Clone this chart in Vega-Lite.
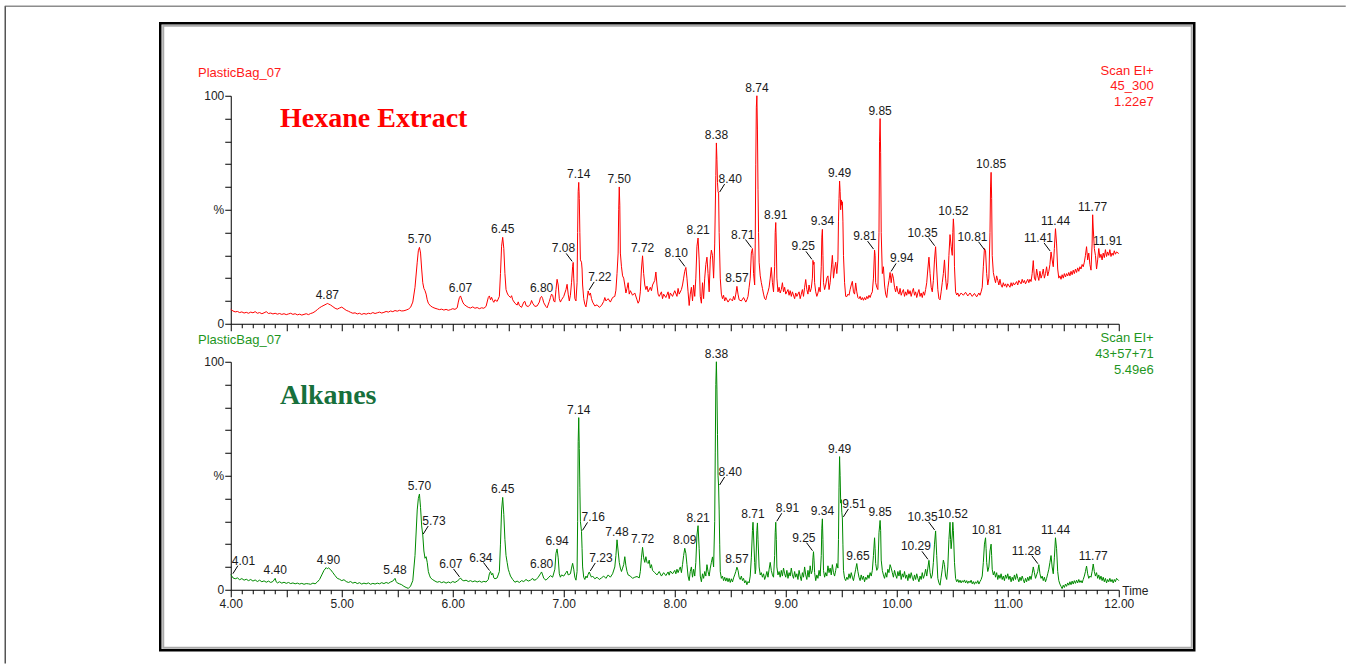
{
"$schema": "https://vega.github.io/schema/vega-lite/v6.json",
"padding": {"left": 3.75, "top": 4.75, "right": 0, "bottom": 0},
"background": "white",
"bounds": "flush",
"spacing": 38,
"config": {
  "view": {"stroke": null},
  "axis": {"domainColor": "#000", "tickColor": "#000", "labelColor": "#222", "labelFont": "Liberation Sans", "labelFontSize": 12, "grid": false, "domainWidth": 1, "tickWidth": 1, "labelOverlap": false, "labelFlush": false},
  "text": {"font": "Liberation Sans", "fontSize": 12}
},
"datasets": {
"hex": [
{"t":4.00,"v":6.3},{"t":4.02,"v":5.6},{"t":4.04,"v":5.2},{"t":4.06,"v":5.4},{"t":4.08,"v":4.9},{"t":4.10,"v":5.2},{"t":4.12,"v":4.7},{"t":4.14,"v":5.0},{"t":4.16,"v":4.6},{"t":4.18,"v":5.1},{"t":4.20,"v":4.8},{"t":4.22,"v":5.3},{"t":4.24,"v":4.6},{"t":4.26,"v":4.9},{"t":4.28,"v":4.4},{"t":4.30,"v":4.8},{"t":4.32,"v":5.3},{"t":4.34,"v":4.5},{"t":4.36,"v":4.7},{"t":4.38,"v":4.3},{"t":4.40,"v":4.6},{"t":4.42,"v":4.2},{"t":4.44,"v":4.5},{"t":4.46,"v":4.1},{"t":4.48,"v":4.4},{"t":4.50,"v":4.0},{"t":4.52,"v":4.3},{"t":4.54,"v":4.6},{"t":4.56,"v":4.1},{"t":4.58,"v":4.4},{"t":4.60,"v":3.9},{"t":4.62,"v":4.2},{"t":4.64,"v":3.8},{"t":4.66,"v":4.1},{"t":4.68,"v":4.4},{"t":4.70,"v":4.0},{"t":4.72,"v":4.5},{"t":4.74,"v":4.8},{"t":4.76,"v":5.4},{"t":4.78,"v":6.2},{"t":4.80,"v":7.0},{"t":4.82,"v":7.6},{"t":4.84,"v":8.1},{"t":4.86,"v":8.6},{"t":4.87,"v":8.9},{"t":4.88,"v":8.7},{"t":4.90,"v":8.2},{"t":4.92,"v":7.5},{"t":4.94,"v":6.8},{"t":4.96,"v":6.4},{"t":4.98,"v":6.9},{"t":5.00,"v":7.3},{"t":5.02,"v":6.6},{"t":5.04,"v":5.9},{"t":5.06,"v":5.5},{"t":5.08,"v":5.0},{"t":5.10,"v":4.6},{"t":5.12,"v":4.8},{"t":5.14,"v":4.3},{"t":5.16,"v":4.6},{"t":5.18,"v":4.1},{"t":5.20,"v":4.5},{"t":5.22,"v":4.2},{"t":5.24,"v":4.6},{"t":5.26,"v":4.4},{"t":5.28,"v":4.9},{"t":5.30,"v":4.5},{"t":5.32,"v":4.8},{"t":5.34,"v":5.1},{"t":5.36,"v":4.7},{"t":5.38,"v":5.0},{"t":5.40,"v":5.4},{"t":5.42,"v":5.1},{"t":5.44,"v":5.6},{"t":5.46,"v":5.3},{"t":5.48,"v":5.8},{"t":5.50,"v":5.5},{"t":5.52,"v":5.9},{"t":5.54,"v":5.6},{"t":5.56,"v":5.7},{"t":5.58,"v":6.0},{"t":5.60,"v":6.4},{"t":5.62,"v":7.2},{"t":5.64,"v":9.5},{"t":5.66,"v":16},{"t":5.68,"v":27},{"t":5.69,"v":32},{"t":5.70,"v":33.5},{"t":5.71,"v":31},{"t":5.72,"v":24},{"t":5.73,"v":18},{"t":5.74,"v":15.5},{"t":5.75,"v":14.5},{"t":5.76,"v":13},{"t":5.77,"v":10.5},{"t":5.78,"v":9},{"t":5.80,"v":7.8},{"t":5.82,"v":7.2},{"t":5.84,"v":6.8},{"t":5.86,"v":6.5},{"t":5.88,"v":6.2},{"t":5.90,"v":6.4},{"t":5.92,"v":6.0},{"t":5.94,"v":6.3},{"t":5.96,"v":5.9},{"t":5.98,"v":6.2},{"t":6.00,"v":6.6},{"t":6.02,"v":6.3},{"t":6.04,"v":7.0},{"t":6.05,"v":9.5},{"t":6.06,"v":11.5},{"t":6.07,"v":12.2},{"t":6.08,"v":10.8},{"t":6.09,"v":9.5},{"t":6.10,"v":8.6},{"t":6.12,"v":7.8},{"t":6.14,"v":7.2},{"t":6.16,"v":6.9},{"t":6.18,"v":7.4},{"t":6.20,"v":6.8},{"t":6.22,"v":7.1},{"t":6.24,"v":6.6},{"t":6.26,"v":7.0},{"t":6.28,"v":6.8},{"t":6.30,"v":7.6},{"t":6.32,"v":11.5},{"t":6.33,"v":12.2},{"t":6.34,"v":10.5},{"t":6.35,"v":11.6},{"t":6.36,"v":10.2},{"t":6.37,"v":9.4},{"t":6.38,"v":10.5},{"t":6.40,"v":9.8},{"t":6.42,"v":12},{"t":6.43,"v":22},{"t":6.44,"v":34},{"t":6.45,"v":37.9},{"t":6.46,"v":33},{"t":6.47,"v":22},{"t":6.48,"v":15},{"t":6.49,"v":13.5},{"t":6.50,"v":12.5},{"t":6.52,"v":11.5},{"t":6.53,"v":12.3},{"t":6.54,"v":10.5},{"t":6.56,"v":9.0},{"t":6.58,"v":8.2},{"t":6.59,"v":9.6},{"t":6.60,"v":8.0},{"t":6.62,"v":7.2},{"t":6.64,"v":9.5},{"t":6.65,"v":9.8},{"t":6.66,"v":8.0},{"t":6.68,"v":7.5},{"t":6.70,"v":8.6},{"t":6.71,"v":10.2},{"t":6.72,"v":9.0},{"t":6.74,"v":7.6},{"t":6.76,"v":7.8},{"t":6.78,"v":9.5},{"t":6.79,"v":11.5},{"t":6.80,"v":12.0},{"t":6.81,"v":11.0},{"t":6.82,"v":9.2},{"t":6.84,"v":7.5},{"t":6.85,"v":7.0},{"t":6.87,"v":9.8},{"t":6.88,"v":11.5},{"t":6.89,"v":13},{"t":6.90,"v":12.5},{"t":6.91,"v":10.0},{"t":6.92,"v":9.5},{"t":6.93,"v":15},{"t":6.94,"v":19.5},{"t":6.95,"v":17},{"t":6.96,"v":11},{"t":6.97,"v":9.5},{"t":6.98,"v":10.5},{"t":7.00,"v":12},{"t":7.01,"v":13.5},{"t":7.02,"v":15},{"t":7.03,"v":17.3},{"t":7.04,"v":13},{"t":7.05,"v":10.0},{"t":7.06,"v":12.5},{"t":7.07,"v":18},{"t":7.08,"v":25},{"t":7.085,"v":26.9},{"t":7.09,"v":20},{"t":7.10,"v":11},{"t":7.11,"v":10},{"t":7.12,"v":18},{"t":7.125,"v":40},{"t":7.13,"v":58},{"t":7.135,"v":62},{"t":7.14,"v":55},{"t":7.145,"v":40},{"t":7.15,"v":28},{"t":7.16,"v":27},{"t":7.165,"v":24},{"t":7.17,"v":17},{"t":7.18,"v":11},{"t":7.19,"v":8.5},{"t":7.20,"v":7.4},{"t":7.21,"v":10.5},{"t":7.22,"v":14.4},{"t":7.23,"v":12.5},{"t":7.24,"v":13.5},{"t":7.25,"v":11},{"t":7.26,"v":9.5},{"t":7.28,"v":7.8},{"t":7.30,"v":8.3},{"t":7.32,"v":7.2},{"t":7.34,"v":8.0},{"t":7.36,"v":9.8},{"t":7.37,"v":11.5},{"t":7.38,"v":10.0},{"t":7.40,"v":11.0},{"t":7.42,"v":9.5},{"t":7.44,"v":11.5},{"t":7.46,"v":12.0},{"t":7.47,"v":14.7},{"t":7.48,"v":22},{"t":7.49,"v":31},{"t":7.495,"v":50},{"t":7.50,"v":60},{"t":7.505,"v":52},{"t":7.51,"v":31},{"t":7.52,"v":25},{"t":7.53,"v":21},{"t":7.54,"v":20},{"t":7.55,"v":17},{"t":7.56,"v":13.5},{"t":7.57,"v":15.5},{"t":7.58,"v":18},{"t":7.59,"v":13},{"t":7.60,"v":14.5},{"t":7.62,"v":12.5},{"t":7.64,"v":13.5},{"t":7.66,"v":10.5},{"t":7.67,"v":9},{"t":7.68,"v":10},{"t":7.69,"v":14},{"t":7.70,"v":24},{"t":7.71,"v":29.8},{"t":7.72,"v":22},{"t":7.73,"v":17},{"t":7.74,"v":15},{"t":7.75,"v":16.5},{"t":7.76,"v":14},{"t":7.78,"v":16},{"t":7.79,"v":14.5},{"t":7.80,"v":17},{"t":7.82,"v":19},{"t":7.83,"v":22.7},{"t":7.84,"v":17},{"t":7.85,"v":13},{"t":7.86,"v":12},{"t":7.88,"v":14},{"t":7.89,"v":11},{"t":7.90,"v":13},{"t":7.92,"v":11.5},{"t":7.94,"v":14},{"t":7.95,"v":11},{"t":7.96,"v":13.5},{"t":7.98,"v":12},{"t":8.00,"v":14.5},{"t":8.02,"v":12},{"t":8.03,"v":15.5},{"t":8.04,"v":13},{"t":8.06,"v":15},{"t":8.07,"v":17},{"t":8.08,"v":20},{"t":8.09,"v":23},{"t":8.10,"v":24.7},{"t":8.11,"v":20},{"t":8.12,"v":14},{"t":8.13,"v":8},{"t":8.14,"v":13},{"t":8.15,"v":16},{"t":8.16,"v":10},{"t":8.17,"v":17},{"t":8.18,"v":12},{"t":8.19,"v":20},{"t":8.20,"v":34},{"t":8.21,"v":37.6},{"t":8.22,"v":28},{"t":8.23,"v":12},{"t":8.24,"v":9},{"t":8.25,"v":18},{"t":8.26,"v":11},{"t":8.27,"v":20},{"t":8.28,"v":26},{"t":8.29,"v":29.2},{"t":8.30,"v":22},{"t":8.31,"v":14},{"t":8.32,"v":28},{"t":8.33,"v":32.3},{"t":8.34,"v":30},{"t":8.35,"v":20},{"t":8.36,"v":35},{"t":8.37,"v":65},{"t":8.375,"v":79.3},{"t":8.38,"v":72},{"t":8.385,"v":62},{"t":8.39,"v":58},{"t":8.395,"v":57.3},{"t":8.40,"v":40},{"t":8.41,"v":20},{"t":8.42,"v":13},{"t":8.43,"v":11},{"t":8.44,"v":12.5},{"t":8.45,"v":10},{"t":8.46,"v":11.5},{"t":8.48,"v":9.5},{"t":8.50,"v":11},{"t":8.52,"v":10},{"t":8.53,"v":12},{"t":8.54,"v":10.5},{"t":8.55,"v":13},{"t":8.56,"v":16.4},{"t":8.57,"v":13},{"t":8.58,"v":10.5},{"t":8.60,"v":10},{"t":8.62,"v":11.5},{"t":8.64,"v":9.5},{"t":8.65,"v":10.5},{"t":8.66,"v":12},{"t":8.67,"v":16},{"t":8.68,"v":20},{"t":8.69,"v":31},{"t":8.70,"v":33},{"t":8.705,"v":30},{"t":8.71,"v":22},{"t":8.72,"v":17},{"t":8.725,"v":35},{"t":8.73,"v":70},{"t":8.735,"v":95},{"t":8.74,"v":100},{"t":8.745,"v":85},{"t":8.75,"v":59},{"t":8.755,"v":40},{"t":8.76,"v":27},{"t":8.77,"v":21},{"t":8.78,"v":18},{"t":8.79,"v":15.5},{"t":8.80,"v":13},{"t":8.81,"v":11},{"t":8.82,"v":10.5},{"t":8.83,"v":12.5},{"t":8.84,"v":14},{"t":8.85,"v":16},{"t":8.86,"v":20},{"t":8.87,"v":24.7},{"t":8.88,"v":18},{"t":8.89,"v":14},{"t":8.90,"v":25},{"t":8.905,"v":40},{"t":8.91,"v":44.4},{"t":8.915,"v":35},{"t":8.92,"v":20},{"t":8.93,"v":14},{"t":8.94,"v":16},{"t":8.95,"v":13.5},{"t":8.96,"v":15},{"t":8.97,"v":18},{"t":8.98,"v":14},{"t":8.99,"v":16},{"t":9.00,"v":13},{"t":9.02,"v":15},{"t":9.03,"v":12.5},{"t":9.04,"v":14.5},{"t":9.05,"v":12},{"t":9.06,"v":14},{"t":9.08,"v":11},{"t":9.09,"v":13.5},{"t":9.10,"v":12},{"t":9.12,"v":14},{"t":9.13,"v":11},{"t":9.14,"v":13},{"t":9.15,"v":15},{"t":9.16,"v":12},{"t":9.17,"v":16},{"t":9.18,"v":19.4},{"t":9.19,"v":15},{"t":9.20,"v":13},{"t":9.21,"v":17},{"t":9.22,"v":14},{"t":9.23,"v":15.5},{"t":9.24,"v":20},{"t":9.245,"v":27.8},{"t":9.25,"v":26},{"t":9.255,"v":27},{"t":9.26,"v":18},{"t":9.27,"v":14},{"t":9.28,"v":12},{"t":9.29,"v":13.5},{"t":9.30,"v":16},{"t":9.31,"v":14},{"t":9.32,"v":25},{"t":9.325,"v":38},{"t":9.33,"v":41.4},{"t":9.335,"v":30},{"t":9.34,"v":18},{"t":9.35,"v":15},{"t":9.36,"v":17},{"t":9.37,"v":20},{"t":9.38,"v":21},{"t":9.39,"v":15},{"t":9.40,"v":18},{"t":9.41,"v":24},{"t":9.42,"v":30},{"t":9.425,"v":26},{"t":9.43,"v":20},{"t":9.44,"v":24},{"t":9.45,"v":27},{"t":9.46,"v":22},{"t":9.47,"v":28},{"t":9.475,"v":45},{"t":9.48,"v":55},{"t":9.485,"v":62.6},{"t":9.49,"v":58},{"t":9.495,"v":50},{"t":9.50,"v":54.3},{"t":9.505,"v":52},{"t":9.51,"v":53.5},{"t":9.515,"v":45},{"t":9.52,"v":30},{"t":9.53,"v":18},{"t":9.54,"v":12},{"t":9.55,"v":11.9},{"t":9.56,"v":13},{"t":9.57,"v":12.5},{"t":9.58,"v":15},{"t":9.59,"v":17},{"t":9.60,"v":18.6},{"t":9.61,"v":14},{"t":9.62,"v":13},{"t":9.63,"v":17.9},{"t":9.64,"v":14},{"t":9.65,"v":11.5},{"t":9.66,"v":11},{"t":9.67,"v":12},{"t":9.68,"v":10.5},{"t":9.69,"v":11.5},{"t":9.70,"v":10.3},{"t":9.71,"v":11.5},{"t":9.72,"v":10.5},{"t":9.73,"v":12},{"t":9.74,"v":11},{"t":9.75,"v":12.5},{"t":9.76,"v":11.5},{"t":9.77,"v":13},{"t":9.78,"v":14},{"t":9.79,"v":20},{"t":9.80,"v":32.3},{"t":9.805,"v":30},{"t":9.81,"v":18},{"t":9.82,"v":16},{"t":9.83,"v":15},{"t":9.84,"v":40},{"t":9.845,"v":80},{"t":9.85,"v":90},{"t":9.855,"v":75},{"t":9.86,"v":40},{"t":9.87,"v":22},{"t":9.88,"v":25},{"t":9.89,"v":17},{"t":9.90,"v":13},{"t":9.91,"v":11.5},{"t":9.92,"v":16},{"t":9.93,"v":19},{"t":9.94,"v":22.5},{"t":9.95,"v":18},{"t":9.96,"v":22},{"t":9.97,"v":20},{"t":9.98,"v":16},{"t":9.99,"v":14},{"t":10.00,"v":16.5},{"t":10.01,"v":14},{"t":10.02,"v":13},{"t":10.03,"v":15.5},{"t":10.04,"v":12.5},{"t":10.05,"v":14},{"t":10.06,"v":15},{"t":10.07,"v":12},{"t":10.08,"v":14},{"t":10.09,"v":12.5},{"t":10.10,"v":15},{"t":10.11,"v":13},{"t":10.12,"v":14.5},{"t":10.13,"v":12},{"t":10.14,"v":14},{"t":10.15,"v":15.5},{"t":10.16,"v":12.5},{"t":10.17,"v":14},{"t":10.18,"v":11.5},{"t":10.19,"v":13.5},{"t":10.20,"v":15},{"t":10.21,"v":12},{"t":10.22,"v":13.5},{"t":10.23,"v":11.5},{"t":10.24,"v":14},{"t":10.25,"v":12.5},{"t":10.26,"v":15},{"t":10.27,"v":18},{"t":10.28,"v":24},{"t":10.29,"v":29.2},{"t":10.30,"v":22},{"t":10.31,"v":16},{"t":10.32,"v":14},{"t":10.33,"v":19},{"t":10.34,"v":28},{"t":10.35,"v":33.8},{"t":10.36,"v":24},{"t":10.37,"v":15},{"t":10.38,"v":11},{"t":10.39,"v":10.5},{"t":10.40,"v":14},{"t":10.41,"v":18},{"t":10.42,"v":22},{"t":10.43,"v":28},{"t":10.44,"v":20},{"t":10.45,"v":15},{"t":10.46,"v":18},{"t":10.47,"v":30},{"t":10.48,"v":39.1},{"t":10.49,"v":34},{"t":10.50,"v":30},{"t":10.505,"v":40},{"t":10.51,"v":46},{"t":10.515,"v":42},{"t":10.52,"v":25},{"t":10.53,"v":14},{"t":10.54,"v":12.6},{"t":10.55,"v":13.5},{"t":10.56,"v":12},{"t":10.58,"v":13.5},{"t":10.60,"v":12.5},{"t":10.62,"v":13.8},{"t":10.64,"v":12.2},{"t":10.66,"v":13.5},{"t":10.68,"v":12},{"t":10.70,"v":13.3},{"t":10.72,"v":11.8},{"t":10.74,"v":13.5},{"t":10.75,"v":12.5},{"t":10.76,"v":14},{"t":10.77,"v":16},{"t":10.78,"v":25},{"t":10.79,"v":33},{"t":10.80,"v":32},{"t":10.81,"v":22},{"t":10.82,"v":17},{"t":10.83,"v":20},{"t":10.84,"v":40},{"t":10.845,"v":60},{"t":10.85,"v":66.4},{"t":10.855,"v":55},{"t":10.86,"v":30},{"t":10.87,"v":22.5},{"t":10.88,"v":20},{"t":10.89,"v":18},{"t":10.90,"v":21},{"t":10.91,"v":19},{"t":10.92,"v":17},{"t":10.93,"v":19.5},{"t":10.94,"v":17},{"t":10.95,"v":16},{"t":10.96,"v":18},{"t":10.97,"v":16.5},{"t":10.98,"v":17.5},{"t":10.99,"v":16},{"t":11.00,"v":17.5},{"t":11.02,"v":16},{"t":11.03,"v":18},{"t":11.04,"v":16.5},{"t":11.05,"v":18},{"t":11.06,"v":17},{"t":11.08,"v":18.5},{"t":11.09,"v":17},{"t":11.10,"v":19},{"t":11.12,"v":17.5},{"t":11.13,"v":19.5},{"t":11.14,"v":18},{"t":11.15,"v":19},{"t":11.16,"v":17.5},{"t":11.18,"v":19.5},{"t":11.19,"v":18},{"t":11.20,"v":19.5},{"t":11.21,"v":18.5},{"t":11.22,"v":22},{"t":11.23,"v":27.7},{"t":11.24,"v":20},{"t":11.25,"v":19},{"t":11.26,"v":24},{"t":11.27,"v":21},{"t":11.28,"v":19},{"t":11.29,"v":23},{"t":11.30,"v":20},{"t":11.31,"v":21.5},{"t":11.32,"v":24},{"t":11.33,"v":20},{"t":11.34,"v":22},{"t":11.35,"v":25},{"t":11.36,"v":21},{"t":11.37,"v":23},{"t":11.38,"v":26},{"t":11.39,"v":31.5},{"t":11.40,"v":28},{"t":11.41,"v":25},{"t":11.42,"v":33},{"t":11.43,"v":41.7},{"t":11.44,"v":35},{"t":11.45,"v":24},{"t":11.46,"v":20},{"t":11.47,"v":21},{"t":11.48,"v":19.5},{"t":11.49,"v":21.5},{"t":11.50,"v":20},{"t":11.51,"v":22},{"t":11.52,"v":20.5},{"t":11.53,"v":22},{"t":11.54,"v":21},{"t":11.55,"v":22.5},{"t":11.56,"v":21},{"t":11.57,"v":23},{"t":11.58,"v":21.5},{"t":11.59,"v":23.5},{"t":11.60,"v":22},{"t":11.61,"v":24},{"t":11.62,"v":22.5},{"t":11.63,"v":24.5},{"t":11.64,"v":23},{"t":11.65,"v":25},{"t":11.66,"v":24},{"t":11.67,"v":26},{"t":11.68,"v":25},{"t":11.69,"v":27},{"t":11.70,"v":30},{"t":11.71,"v":33.8},{"t":11.72,"v":28},{"t":11.73,"v":31},{"t":11.74,"v":26},{"t":11.75,"v":23.5},{"t":11.76,"v":35},{"t":11.765,"v":47.8},{"t":11.77,"v":42},{"t":11.78,"v":33},{"t":11.79,"v":30},{"t":11.80,"v":24},{"t":11.81,"v":28},{"t":11.82,"v":33},{"t":11.83,"v":29},{"t":11.84,"v":30.5},{"t":11.85,"v":28},{"t":11.86,"v":31},{"t":11.87,"v":29},{"t":11.88,"v":32.5},{"t":11.89,"v":29.5},{"t":11.90,"v":31.5},{"t":11.91,"v":30},{"t":11.92,"v":32.5},{"t":11.93,"v":29.5},{"t":11.94,"v":31},{"t":11.95,"v":30},{"t":11.96,"v":32},{"t":11.97,"v":30.5},{"t":11.98,"v":31.5},{"t":12.00,"v":30.8}
],
"alk": [
{"t":4.00,"v":6.6},{"t":4.01,"v":6.0},{"t":4.02,"v":5.2},{"t":4.04,"v":4.8},{"t":4.06,"v":5.2},{"t":4.08,"v":4.4},{"t":4.10,"v":4.9},{"t":4.12,"v":4.2},{"t":4.14,"v":4.6},{"t":4.16,"v":4.0},{"t":4.18,"v":4.5},{"t":4.20,"v":3.8},{"t":4.22,"v":4.3},{"t":4.24,"v":3.6},{"t":4.26,"v":4.2},{"t":4.28,"v":3.5},{"t":4.30,"v":3.9},{"t":4.32,"v":3.3},{"t":4.34,"v":3.8},{"t":4.36,"v":3.2},{"t":4.38,"v":3.6},{"t":4.40,"v":5.0},{"t":4.41,"v":3.4},{"t":4.42,"v":3.0},{"t":4.44,"v":3.5},{"t":4.46,"v":2.9},{"t":4.48,"v":3.3},{"t":4.50,"v":2.8},{"t":4.52,"v":3.2},{"t":4.54,"v":2.7},{"t":4.56,"v":3.0},{"t":4.58,"v":2.6},{"t":4.60,"v":2.9},{"t":4.62,"v":2.5},{"t":4.64,"v":2.8},{"t":4.66,"v":2.4},{"t":4.68,"v":2.7},{"t":4.70,"v":2.6},{"t":4.72,"v":2.4},{"t":4.74,"v":2.9},{"t":4.76,"v":2.6},{"t":4.78,"v":3.4},{"t":4.80,"v":4.5},{"t":4.82,"v":6.5},{"t":4.84,"v":8.5},{"t":4.86,"v":9.7},{"t":4.87,"v":9.2},{"t":4.88,"v":9.6},{"t":4.90,"v":8.8},{"t":4.92,"v":7.5},{"t":4.94,"v":6.2},{"t":4.96,"v":5.0},{"t":4.98,"v":4.6},{"t":5.00,"v":4.0},{"t":5.02,"v":4.4},{"t":5.04,"v":3.6},{"t":5.06,"v":3.2},{"t":5.08,"v":3.6},{"t":5.10,"v":2.9},{"t":5.12,"v":3.3},{"t":5.14,"v":2.7},{"t":5.16,"v":3.1},{"t":5.18,"v":2.5},{"t":5.20,"v":2.9},{"t":5.22,"v":2.6},{"t":5.24,"v":3.0},{"t":5.26,"v":2.4},{"t":5.28,"v":2.8},{"t":5.30,"v":2.5},{"t":5.32,"v":2.9},{"t":5.34,"v":2.6},{"t":5.36,"v":3.1},{"t":5.38,"v":2.7},{"t":5.40,"v":3.2},{"t":5.42,"v":2.8},{"t":5.44,"v":3.4},{"t":5.46,"v":3.8},{"t":5.48,"v":5.0},{"t":5.49,"v":3.6},{"t":5.50,"v":3.0},{"t":5.52,"v":2.6},{"t":5.54,"v":2.2},{"t":5.56,"v":1.5},{"t":5.58,"v":1.0},{"t":5.60,"v":0.6},{"t":5.62,"v":1.6},{"t":5.64,"v":4},{"t":5.66,"v":15},{"t":5.68,"v":35},{"t":5.69,"v":40},{"t":5.70,"v":42},{"t":5.71,"v":36},{"t":5.72,"v":28},{"t":5.73,"v":24},{"t":5.74,"v":17},{"t":5.75,"v":13.8},{"t":5.76,"v":14.5},{"t":5.77,"v":12},{"t":5.78,"v":8},{"t":5.79,"v":6.4},{"t":5.80,"v":5.2},{"t":5.82,"v":4.4},{"t":5.84,"v":3.8},{"t":5.86,"v":3.3},{"t":5.88,"v":3.6},{"t":5.90,"v":3.1},{"t":5.92,"v":3.5},{"t":5.94,"v":2.9},{"t":5.96,"v":3.4},{"t":5.98,"v":3.0},{"t":6.00,"v":3.6},{"t":6.02,"v":3.2},{"t":6.04,"v":3.8},{"t":6.06,"v":4.6},{"t":6.07,"v":5.2},{"t":6.08,"v":4.4},{"t":6.10,"v":3.9},{"t":6.12,"v":4.2},{"t":6.14,"v":3.6},{"t":6.16,"v":4.0},{"t":6.18,"v":3.5},{"t":6.20,"v":3.9},{"t":6.22,"v":3.4},{"t":6.24,"v":3.8},{"t":6.26,"v":3.3},{"t":6.28,"v":3.7},{"t":6.30,"v":3.4},{"t":6.32,"v":4.5},{"t":6.33,"v":7.0},{"t":6.34,"v":8.0},{"t":6.35,"v":6.5},{"t":6.36,"v":7.2},{"t":6.37,"v":5.2},{"t":6.38,"v":4.8},{"t":6.40,"v":5.2},{"t":6.42,"v":8},{"t":6.43,"v":20},{"t":6.44,"v":35},{"t":6.45,"v":40.5},{"t":6.46,"v":33},{"t":6.47,"v":22},{"t":6.48,"v":15},{"t":6.49,"v":12},{"t":6.50,"v":9},{"t":6.51,"v":7.5},{"t":6.52,"v":6},{"t":6.54,"v":4.5},{"t":6.56,"v":3.3},{"t":6.58,"v":3.8},{"t":6.60,"v":3.2},{"t":6.62,"v":4.0},{"t":6.64,"v":3.6},{"t":6.66,"v":4.5},{"t":6.68,"v":3.8},{"t":6.70,"v":4.2},{"t":6.72,"v":5.0},{"t":6.73,"v":4.2},{"t":6.75,"v":4.4},{"t":6.77,"v":5.5},{"t":6.79,"v":7.0},{"t":6.80,"v":7.8},{"t":6.81,"v":6.5},{"t":6.82,"v":5.0},{"t":6.84,"v":4.2},{"t":6.86,"v":5.2},{"t":6.88,"v":6.2},{"t":6.90,"v":5.5},{"t":6.92,"v":9},{"t":6.93,"v":16},{"t":6.94,"v":17.9},{"t":6.95,"v":14},{"t":6.96,"v":7},{"t":6.97,"v":5.5},{"t":6.98,"v":6.5},{"t":7.00,"v":6.0},{"t":7.02,"v":7.5},{"t":7.03,"v":8.2},{"t":7.04,"v":6.5},{"t":7.06,"v":7.0},{"t":7.07,"v":9.5},{"t":7.08,"v":11.6},{"t":7.09,"v":9},{"t":7.10,"v":5.5},{"t":7.11,"v":4.2},{"t":7.12,"v":8},{"t":7.125,"v":30},{"t":7.13,"v":65},{"t":7.135,"v":75.5},{"t":7.14,"v":62},{"t":7.145,"v":45},{"t":7.15,"v":30},{"t":7.16,"v":25.6},{"t":7.165,"v":18},{"t":7.17,"v":10},{"t":7.18,"v":5.5},{"t":7.19,"v":4.5},{"t":7.20,"v":6.0},{"t":7.21,"v":5.2},{"t":7.22,"v":6.8},{"t":7.23,"v":7.8},{"t":7.24,"v":6.5},{"t":7.25,"v":5.5},{"t":7.26,"v":6.0},{"t":7.28,"v":4.8},{"t":7.30,"v":5.5},{"t":7.32,"v":4.5},{"t":7.34,"v":5.2},{"t":7.36,"v":6.0},{"t":7.38,"v":5.0},{"t":7.40,"v":6.5},{"t":7.42,"v":5.5},{"t":7.44,"v":7.0},{"t":7.46,"v":10},{"t":7.47,"v":15},{"t":7.48,"v":21.9},{"t":7.49,"v":17},{"t":7.50,"v":12},{"t":7.51,"v":9.5},{"t":7.52,"v":8},{"t":7.53,"v":9.5},{"t":7.54,"v":11},{"t":7.55,"v":14.5},{"t":7.56,"v":10.5},{"t":7.57,"v":8},{"t":7.58,"v":6.5},{"t":7.60,"v":6.0},{"t":7.62,"v":5.0},{"t":7.64,"v":5.5},{"t":7.66,"v":5.8},{"t":7.68,"v":5.2},{"t":7.69,"v":8},{"t":7.70,"v":14},{"t":7.71,"v":18.6},{"t":7.72,"v":14},{"t":7.73,"v":12},{"t":7.74,"v":14.5},{"t":7.75,"v":12},{"t":7.76,"v":11.5},{"t":7.77,"v":13},{"t":7.78,"v":9.5},{"t":7.79,"v":11},{"t":7.80,"v":8.5},{"t":7.82,"v":7.5},{"t":7.84,"v":6.5},{"t":7.86,"v":8},{"t":7.88,"v":6.0},{"t":7.90,"v":7.5},{"t":7.92,"v":6.2},{"t":7.94,"v":7.8},{"t":7.95,"v":6.4},{"t":7.96,"v":8.2},{"t":7.98,"v":7.0},{"t":8.00,"v":8.5},{"t":8.01,"v":7.0},{"t":8.02,"v":9.0},{"t":8.03,"v":7.5},{"t":8.04,"v":8.8},{"t":8.05,"v":10},{"t":8.06,"v":7.5},{"t":8.07,"v":11},{"t":8.08,"v":15},{"t":8.09,"v":18.2},{"t":8.10,"v":16},{"t":8.11,"v":11},{"t":8.12,"v":6},{"t":8.13,"v":4},{"t":8.14,"v":8},{"t":8.15,"v":10},{"t":8.16,"v":5.5},{"t":8.17,"v":9},{"t":8.18,"v":6},{"t":8.19,"v":12},{"t":8.20,"v":24},{"t":8.21,"v":28.1},{"t":8.22,"v":18},{"t":8.23,"v":6},{"t":8.24,"v":3.5},{"t":8.25,"v":7},{"t":8.26,"v":5},{"t":8.27,"v":8},{"t":8.28,"v":6},{"t":8.29,"v":11},{"t":8.30,"v":8},{"t":8.31,"v":6},{"t":8.32,"v":9.5},{"t":8.33,"v":12},{"t":8.34,"v":14.4},{"t":8.35,"v":10},{"t":8.36,"v":30},{"t":8.365,"v":60},{"t":8.37,"v":90},{"t":8.375,"v":100},{"t":8.38,"v":88},{"t":8.385,"v":68},{"t":8.39,"v":50},{"t":8.395,"v":45.5},{"t":8.40,"v":35},{"t":8.405,"v":20},{"t":8.41,"v":8},{"t":8.42,"v":5},{"t":8.43,"v":6},{"t":8.44,"v":4},{"t":8.45,"v":5.5},{"t":8.46,"v":3.8},{"t":8.47,"v":5.2},{"t":8.48,"v":3.5},{"t":8.49,"v":5.0},{"t":8.50,"v":3.2},{"t":8.51,"v":4.8},{"t":8.52,"v":3.4},{"t":8.53,"v":5.2},{"t":8.54,"v":6.5},{"t":8.55,"v":8},{"t":8.56,"v":9.9},{"t":8.57,"v":8.5},{"t":8.58,"v":5.5},{"t":8.59,"v":4.5},{"t":8.60,"v":6.0},{"t":8.61,"v":4.0},{"t":8.62,"v":5.0},{"t":8.63,"v":3.0},{"t":8.64,"v":4.0},{"t":8.65,"v":2.2},{"t":8.66,"v":3.6},{"t":8.67,"v":3.0},{"t":8.68,"v":6},{"t":8.69,"v":14},{"t":8.70,"v":26},{"t":8.705,"v":29.6},{"t":8.71,"v":24},{"t":8.72,"v":12},{"t":8.725,"v":7},{"t":8.73,"v":9},{"t":8.74,"v":26},{"t":8.745,"v":29.3},{"t":8.75,"v":22},{"t":8.76,"v":10},{"t":8.77,"v":6.5},{"t":8.78,"v":7.5},{"t":8.79,"v":5.5},{"t":8.80,"v":7.0},{"t":8.81,"v":4.5},{"t":8.82,"v":6.0},{"t":8.83,"v":8.0},{"t":8.84,"v":5.5},{"t":8.85,"v":9.0},{"t":8.86,"v":12},{"t":8.87,"v":8.5},{"t":8.88,"v":6.5},{"t":8.89,"v":5.5},{"t":8.90,"v":15},{"t":8.905,"v":25},{"t":8.91,"v":29.6},{"t":8.915,"v":22},{"t":8.92,"v":10},{"t":8.93,"v":6.5},{"t":8.94,"v":8.0},{"t":8.95,"v":5.5},{"t":8.96,"v":8.5},{"t":8.97,"v":6.0},{"t":8.98,"v":9.5},{"t":8.99,"v":7.0},{"t":9.00,"v":5.5},{"t":9.01,"v":8.5},{"t":9.02,"v":5.0},{"t":9.03,"v":7.5},{"t":9.04,"v":6.0},{"t":9.05,"v":9.5},{"t":9.06,"v":6.5},{"t":9.07,"v":5.0},{"t":9.08,"v":8.0},{"t":9.09,"v":5.5},{"t":9.10,"v":7.0},{"t":9.11,"v":4.5},{"t":9.12,"v":8.5},{"t":9.13,"v":6.0},{"t":9.14,"v":4.0},{"t":9.15,"v":7.5},{"t":9.16,"v":5.5},{"t":9.17,"v":10},{"t":9.18,"v":6.5},{"t":9.19,"v":4.5},{"t":9.20,"v":8.5},{"t":9.21,"v":5.5},{"t":9.22,"v":10.5},{"t":9.23,"v":7.0},{"t":9.24,"v":8.5},{"t":9.245,"v":14},{"t":9.25,"v":16.7},{"t":9.255,"v":13},{"t":9.26,"v":7.5},{"t":9.27,"v":4.0},{"t":9.28,"v":6.5},{"t":9.29,"v":5.0},{"t":9.30,"v":8.5},{"t":9.31,"v":6.0},{"t":9.32,"v":15},{"t":9.325,"v":27},{"t":9.33,"v":31.1},{"t":9.335,"v":22},{"t":9.34,"v":8.5},{"t":9.35,"v":5.5},{"t":9.36,"v":7.5},{"t":9.37,"v":6.0},{"t":9.38,"v":10.5},{"t":9.39,"v":7.5},{"t":9.40,"v":9.5},{"t":9.41,"v":6.5},{"t":9.42,"v":11},{"t":9.43,"v":7.5},{"t":9.44,"v":6.0},{"t":9.45,"v":8.5},{"t":9.46,"v":11.5},{"t":9.47,"v":9.5},{"t":9.475,"v":22},{"t":9.48,"v":45},{"t":9.485,"v":58.4},{"t":9.49,"v":50},{"t":9.495,"v":38},{"t":9.50,"v":39.5},{"t":9.505,"v":34},{"t":9.51,"v":31.5},{"t":9.515,"v":20},{"t":9.52,"v":8.5},{"t":9.53,"v":5.0},{"t":9.54,"v":4.0},{"t":9.55,"v":5.5},{"t":9.56,"v":4.5},{"t":9.57,"v":7.0},{"t":9.58,"v":5.0},{"t":9.59,"v":7.5},{"t":9.60,"v":5.5},{"t":9.61,"v":4.0},{"t":9.62,"v":6.5},{"t":9.63,"v":9.0},{"t":9.64,"v":11.5},{"t":9.65,"v":8.0},{"t":9.66,"v":5.5},{"t":9.67,"v":4.0},{"t":9.68,"v":6.5},{"t":9.69,"v":4.5},{"t":9.70,"v":6.0},{"t":9.71,"v":3.5},{"t":9.72,"v":5.5},{"t":9.73,"v":4.5},{"t":9.74,"v":6.5},{"t":9.75,"v":5.0},{"t":9.76,"v":7.5},{"t":9.77,"v":6.0},{"t":9.78,"v":8.5},{"t":9.79,"v":15},{"t":9.80,"v":22.8},{"t":9.805,"v":18},{"t":9.81,"v":11.5},{"t":9.82,"v":8.5},{"t":9.83,"v":9.5},{"t":9.84,"v":25},{"t":9.85,"v":30.4},{"t":9.855,"v":26},{"t":9.86,"v":13},{"t":9.87,"v":8.5},{"t":9.88,"v":6.5},{"t":9.89,"v":5.0},{"t":9.90,"v":7.5},{"t":9.91,"v":5.5},{"t":9.92,"v":9.0},{"t":9.93,"v":7.5},{"t":9.94,"v":11},{"t":9.95,"v":9.5},{"t":9.96,"v":7.5},{"t":9.97,"v":5.5},{"t":9.98,"v":8.5},{"t":9.99,"v":6.5},{"t":10.00,"v":5.0},{"t":10.01,"v":8.0},{"t":10.02,"v":6.0},{"t":10.03,"v":8.5},{"t":10.04,"v":4.5},{"t":10.05,"v":7.0},{"t":10.06,"v":5.5},{"t":10.07,"v":8.0},{"t":10.08,"v":5.0},{"t":10.09,"v":6.5},{"t":10.10,"v":4.0},{"t":10.11,"v":7.0},{"t":10.12,"v":5.0},{"t":10.13,"v":7.5},{"t":10.14,"v":5.5},{"t":10.15,"v":4.0},{"t":10.16,"v":6.5},{"t":10.17,"v":4.5},{"t":10.18,"v":7.0},{"t":10.19,"v":5.0},{"t":10.20,"v":3.5},{"t":10.21,"v":6.0},{"t":10.22,"v":4.5},{"t":10.23,"v":7.5},{"t":10.24,"v":5.0},{"t":10.25,"v":6.5},{"t":10.26,"v":9.0},{"t":10.27,"v":6.0},{"t":10.28,"v":9.5},{"t":10.29,"v":12.9},{"t":10.30,"v":7.5},{"t":10.31,"v":5.0},{"t":10.32,"v":6.5},{"t":10.33,"v":12},{"t":10.34,"v":20},{"t":10.35,"v":25.8},{"t":10.36,"v":15},{"t":10.37,"v":5},{"t":10.38,"v":3},{"t":10.39,"v":2},{"t":10.40,"v":5.5},{"t":10.41,"v":9},{"t":10.42,"v":13},{"t":10.43,"v":11},{"t":10.44,"v":6},{"t":10.45,"v":4.5},{"t":10.46,"v":10},{"t":10.47,"v":22},{"t":10.48,"v":29.6},{"t":10.485,"v":22},{"t":10.49,"v":18},{"t":10.50,"v":24},{"t":10.505,"v":29.6},{"t":10.51,"v":26},{"t":10.52,"v":12},{"t":10.53,"v":5},{"t":10.54,"v":3.5},{"t":10.55,"v":4.5},{"t":10.56,"v":3.2},{"t":10.57,"v":4.2},{"t":10.58,"v":3.0},{"t":10.59,"v":4.0},{"t":10.60,"v":3.3},{"t":10.61,"v":4.3},{"t":10.62,"v":3.0},{"t":10.63,"v":4.0},{"t":10.64,"v":2.8},{"t":10.65,"v":3.8},{"t":10.66,"v":3.1},{"t":10.67,"v":4.2},{"t":10.68,"v":2.6},{"t":10.69,"v":3.6},{"t":10.70,"v":2.4},{"t":10.71,"v":3.5},{"t":10.72,"v":2.8},{"t":10.73,"v":4.0},{"t":10.74,"v":2.5},{"t":10.75,"v":3.6},{"t":10.76,"v":4.5},{"t":10.77,"v":6},{"t":10.78,"v":12},{"t":10.79,"v":20},{"t":10.80,"v":22.8},{"t":10.805,"v":18},{"t":10.81,"v":12},{"t":10.82,"v":8},{"t":10.83,"v":10},{"t":10.84,"v":17},{"t":10.85,"v":20},{"t":10.855,"v":15},{"t":10.86,"v":9},{"t":10.87,"v":6.5},{"t":10.88,"v":8},{"t":10.89,"v":5.5},{"t":10.90,"v":7.5},{"t":10.91,"v":4.5},{"t":10.92,"v":6.5},{"t":10.93,"v":5.0},{"t":10.94,"v":7.0},{"t":10.95,"v":4.5},{"t":10.96,"v":6.0},{"t":10.97,"v":4.0},{"t":10.98,"v":6.5},{"t":10.99,"v":5.0},{"t":11.00,"v":7.0},{"t":11.01,"v":4.5},{"t":11.02,"v":6.0},{"t":11.03,"v":3.5},{"t":11.04,"v":5.5},{"t":11.05,"v":4.0},{"t":11.06,"v":6.5},{"t":11.07,"v":4.5},{"t":11.08,"v":7.0},{"t":11.09,"v":5.0},{"t":11.10,"v":3.5},{"t":11.11,"v":5.5},{"t":11.12,"v":4.0},{"t":11.13,"v":6.0},{"t":11.14,"v":4.5},{"t":11.15,"v":3.0},{"t":11.16,"v":5.0},{"t":11.17,"v":3.5},{"t":11.18,"v":5.5},{"t":11.19,"v":4.0},{"t":11.20,"v":6.0},{"t":11.21,"v":4.5},{"t":11.22,"v":7},{"t":11.23,"v":10},{"t":11.24,"v":7.5},{"t":11.25,"v":5},{"t":11.26,"v":6.5},{"t":11.27,"v":8},{"t":11.28,"v":11},{"t":11.29,"v":7},{"t":11.30,"v":5},{"t":11.31,"v":6},{"t":11.32,"v":4},{"t":11.33,"v":5.5},{"t":11.34,"v":3.5},{"t":11.35,"v":5},{"t":11.36,"v":7},{"t":11.37,"v":9},{"t":11.38,"v":12},{"t":11.39,"v":15},{"t":11.40,"v":10},{"t":11.41,"v":7},{"t":11.42,"v":14},{"t":11.43,"v":22.8},{"t":11.44,"v":18},{"t":11.45,"v":8},{"t":11.46,"v":4},{"t":11.47,"v":2.5},{"t":11.48,"v":1.5},{"t":11.49,"v":0.5},{"t":11.50,"v":2.0},{"t":11.51,"v":1.0},{"t":11.52,"v":2.5},{"t":11.53,"v":1.5},{"t":11.54,"v":3.0},{"t":11.55,"v":2.0},{"t":11.56,"v":3.5},{"t":11.57,"v":2.2},{"t":11.58,"v":3.8},{"t":11.59,"v":2.5},{"t":11.60,"v":4.0},{"t":11.61,"v":2.8},{"t":11.62,"v":4.2},{"t":11.63,"v":3.0},{"t":11.64,"v":4.5},{"t":11.65,"v":3.2},{"t":11.66,"v":4.0},{"t":11.67,"v":3.0},{"t":11.68,"v":4.5},{"t":11.69,"v":6},{"t":11.70,"v":8},{"t":11.71,"v":10.4},{"t":11.72,"v":7},{"t":11.73,"v":5},{"t":11.74,"v":6},{"t":11.75,"v":5.5},{"t":11.76,"v":8},{"t":11.77,"v":11.3},{"t":11.78,"v":8},{"t":11.79,"v":6},{"t":11.80,"v":7.5},{"t":11.81,"v":5},{"t":11.82,"v":6.5},{"t":11.83,"v":4.5},{"t":11.84,"v":6},{"t":11.85,"v":4},{"t":11.86,"v":5.5},{"t":11.87,"v":3.5},{"t":11.88,"v":5},{"t":11.89,"v":3.0},{"t":11.90,"v":4.5},{"t":11.91,"v":3.5},{"t":11.92,"v":5},{"t":11.93,"v":3.5},{"t":11.94,"v":4.5},{"t":11.95,"v":3},{"t":11.96,"v":4.5},{"t":11.97,"v":3.5},{"t":11.98,"v":5},{"t":12.00,"v":4.0}
],
"hexlab": [
{"t":4.87,"v":8.9,"s":"4.87","d":"C"},{"t":5.70,"v":33.5,"s":"5.70","d":"C"},{"t":6.07,"v":12.2,"s":"6.07","d":"C"},{"t":6.45,"v":37.9,"s":"6.45","d":"C"},{"t":6.80,"v":12.0,"s":"6.80","d":"C"},{"t":7.085,"v":26.9,"s":"7.08","d":"L"},{"t":7.135,"v":62,"s":"7.14","d":"C"},{"t":7.22,"v":14.4,"s":"7.22","d":"R"},{"t":7.50,"v":60,"s":"7.50","d":"C"},{"t":7.71,"v":29.8,"s":"7.72","d":"C"},{"t":8.10,"v":24.7,"s":"8.10","d":"L"},{"t":8.21,"v":37.6,"s":"8.21","d":"C"},{"t":8.375,"v":79.3,"s":"8.38","d":"C"},{"t":8.395,"v":57.3,"s":"8.40","d":"R"},{"t":8.56,"v":16.4,"s":"8.57","d":"C"},{"t":8.70,"v":33,"s":"8.71","d":"L"},{"t":8.74,"v":100,"s":"8.74","d":"C"},{"t":8.91,"v":44.4,"s":"8.91","d":"C"},{"t":9.245,"v":27.8,"s":"9.25","d":"L"},{"t":9.33,"v":41.4,"s":"9.34","d":"C"},{"t":9.485,"v":62.6,"s":"9.49","d":"C"},{"t":9.80,"v":32.3,"s":"9.81","d":"L"},{"t":9.85,"v":90,"s":"9.85","d":"C"},{"t":9.94,"v":22.5,"s":"9.94","d":"R"},{"t":10.35,"v":33.8,"s":"10.35","d":"L"},{"t":10.51,"v":46,"s":"10.52","d":"C"},{"t":10.80,"v":32,"s":"10.81","d":"L"},{"t":10.85,"v":66.4,"s":"10.85","d":"C"},{"t":11.39,"v":31.5,"s":"11.41","d":"L"},{"t":11.43,"v":41.7,"s":"11.44","d":"C"},{"t":11.765,"v":47.8,"s":"11.77","d":"C"},{"t":11.90,"v":33,"s":"11.91","d":"C"}
],
"alklab": [
{"t":4.01,"v":6.6,"s":"4.01","d":"R"},{"t":4.40,"v":5.0,"s":"4.40","d":"C"},{"t":4.88,"v":9.7,"s":"4.90","d":"C"},{"t":5.48,"v":5.0,"s":"5.48","d":"C"},{"t":5.70,"v":42,"s":"5.70","d":"C"},{"t":5.725,"v":24,"s":"5.73","d":"R"},{"t":6.07,"v":5.2,"s":"6.07","d":"L"},{"t":6.34,"v":8.0,"s":"6.34","d":"L"},{"t":6.45,"v":40.5,"s":"6.45","d":"C"},{"t":6.80,"v":7.8,"s":"6.80","d":"C"},{"t":6.94,"v":17.9,"s":"6.94","d":"C"},{"t":7.135,"v":75.5,"s":"7.14","d":"C"},{"t":7.16,"v":25.6,"s":"7.16","d":"R"},{"t":7.23,"v":7.8,"s":"7.23","d":"R"},{"t":7.48,"v":21.9,"s":"7.48","d":"C"},{"t":7.71,"v":18.6,"s":"7.72","d":"C"},{"t":8.09,"v":18.2,"s":"8.09","d":"C"},{"t":8.21,"v":28.1,"s":"8.21","d":"C"},{"t":8.375,"v":100,"s":"8.38","d":"C"},{"t":8.395,"v":45.5,"s":"8.40","d":"R"},{"t":8.56,"v":9.9,"s":"8.57","d":"C"},{"t":8.705,"v":29.6,"s":"8.71","d":"C"},{"t":8.91,"v":29.6,"s":"8.91","d":"R"},{"t":9.25,"v":16.7,"s":"9.25","d":"L"},{"t":9.33,"v":31.1,"s":"9.34","d":"C"},{"t":9.485,"v":58.4,"s":"9.49","d":"C"},{"t":9.51,"v":31.5,"s":"9.51","d":"R"},{"t":9.65,"v":11.5,"s":"9.65","d":"C"},{"t":9.85,"v":30.4,"s":"9.85","d":"C"},{"t":10.29,"v":12.9,"s":"10.29","d":"L"},{"t":10.35,"v":25.8,"s":"10.35","d":"L"},{"t":10.505,"v":29.6,"s":"10.52","d":"C"},{"t":10.81,"v":22.8,"s":"10.81","d":"C"},{"t":11.28,"v":11,"s":"11.28","d":"L"},{"t":11.43,"v":22.8,"s":"11.44","d":"C"},{"t":11.77,"v":11.3,"s":"11.77","d":"C"}
]
},
"vconcat": [
{
"width": 888, "height": 228,
"layer": [
{"data": {"values": [{}]}, "mark": {"type": "rule", "stroke": "#8c8c8c", "strokeWidth": 1.5},
 "encoding": {"x": {"datum": 1.964, "type": "quantitative", "scale": {"domain": [4, 12]}}, "x2": {"datum": 14.045}, "y": {"datum": 139.25, "type": "quantitative", "scale": {"domain": [0, 100]}}}},
{"data": {"values": [{}]}, "mark": {"type": "rule", "stroke": "#555555", "strokeWidth": 1.5},
 "encoding": {"x": {"datum": 1.96847, "type": "quantitative", "scale": {"domain": [4, 12]}}, "y": {"datum": 139.25, "type": "quantitative", "scale": {"domain": [0, 100]}}, "y2": {"datum": -149.0}}},
{"data": {"values": [{}]}, "mark": {"type": "rect", "fill": "transparent", "stroke": "#aaaaaa", "strokeWidth": 2},
 "encoding": {"x": {"datum": 3.3919, "type": "quantitative", "scale": {"domain": [4, 12]}}, "x2": {"datum": 12.6577}, "y": {"datum": 130.70, "type": "quantitative", "scale": {"domain": [0, 100]}}, "y2": {"datum": -142.11}}},
{"data": {"values": [{}]}, "mark": {"type": "rect", "fill": "transparent", "stroke": "#000000", "strokeWidth": 2.5},
 "encoding": {"x": {"datum": 3.3649, "type": "quantitative", "scale": {"domain": [4, 12]}}, "x2": {"datum": 12.6802}, "y": {"datum": 131.80, "type": "quantitative", "scale": {"domain": [0, 100]}}, "y2": {"datum": -143.20}}},
{"data": {"name": "hex"},
 "mark": {"type": "line", "color": "#ff0000", "strokeWidth": 1, "interpolate": "linear"},
 "encoding": {
   "x": {"field": "t", "type": "quantitative", "scale": {"domain": [4, 12], "nice": false, "zero": false},
         "axis": {"title": null, "labels": false, "labelOverlap": false, "tickCount": 200, "values": [4,4.1,4.2,4.3,4.4,4.5,4.6,4.7,4.8,4.9,5,5.1,5.2,5.3,5.4,5.5,5.6,5.7,5.8,5.9,6,6.1,6.2,6.3,6.4,6.5,6.6,6.7,6.8,6.9,7,7.1,7.2,7.3,7.4,7.5,7.6,7.7,7.8,7.9,8,8.1,8.2,8.3,8.4,8.5,8.6,8.7,8.8,8.9,9,9.1,9.2,9.3,9.4,9.5,9.6,9.7,9.8,9.9,10,10.1,10.2,10.3,10.4,10.5,10.6,10.7,10.8,10.9,11,11.1,11.2,11.3,11.4,11.5,11.6,11.7,11.8,11.9,12],
                  "tickSize": {"condition": {"test": "abs(datum.value*2 - round(datum.value*2)) < 0.01", "value": 7}, "value": 4}}},
   "y": {"field": "v", "type": "quantitative", "scale": {"domain": [0, 100], "nice": false, "zero": true},
         "axis": {"title": null, "labelOverlap": false, "tickCount": 50, "values": [0,10,20,30,40,50,60,70,80,90,100], "tickSize": 6, "labelPadding": 1,
                  "labelExpr": "datum.value == 100 ? '100' : datum.value == 50 ? '%' : datum.value == 0 ? '0' : ''"}}
 }},
{"data": {"name": "hexlab"}, "transform": [{"filter": "datum.d === 'C'"}],
 "mark": {"type": "text", "align": "center", "baseline": "alphabetic", "dy": -4, "fill": "#1a1a1a"},
 "encoding": {"x": {"field": "t", "type": "quantitative", "scale": {"domain": [4, 12]}}, "y": {"field": "v", "type": "quantitative", "scale": {"domain": [0, 100]}}, "text": {"field": "s"}}},
{"data": {"name": "hexlab"}, "transform": [{"filter": "datum.d === 'L'"}],
 "mark": {"type": "text", "align": "right", "baseline": "alphabetic", "dx": 2, "dy": -10, "fill": "#1a1a1a"},
 "encoding": {"x": {"field": "t", "type": "quantitative", "scale": {"domain": [4, 12]}}, "y": {"field": "v", "type": "quantitative", "scale": {"domain": [0, 100]}}, "text": {"field": "s"}}},
{"data": {"name": "hexlab"}, "transform": [{"filter": "datum.d === 'L'"}],
 "mark": {"type": "rule", "stroke": "#000", "strokeWidth": 1, "xOffset": -1, "yOffset": -1, "x2Offset": -7, "y2Offset": -9},
 "encoding": {"x": {"field": "t", "type": "quantitative", "scale": {"domain": [4, 12]}}, "x2": {"field": "t"}, "y": {"field": "v", "type": "quantitative", "scale": {"domain": [0, 100]}}, "y2": {"field": "v"}}},
{"data": {"name": "hexlab"}, "transform": [{"filter": "datum.d === 'R'"}],
 "mark": {"type": "text", "align": "left", "baseline": "alphabetic", "dx": 0, "dy": -10, "fill": "#1a1a1a"},
 "encoding": {"x": {"field": "t", "type": "quantitative", "scale": {"domain": [4, 12]}}, "y": {"field": "v", "type": "quantitative", "scale": {"domain": [0, 100]}}, "text": {"field": "s"}}},
{"data": {"name": "hexlab"}, "transform": [{"filter": "datum.d === 'R'"}],
 "mark": {"type": "rule", "stroke": "#000", "strokeWidth": 1, "xOffset": 1, "yOffset": -1, "x2Offset": 6, "y2Offset": -9},
 "encoding": {"x": {"field": "t", "type": "quantitative", "scale": {"domain": [4, 12]}}, "x2": {"field": "t"}, "y": {"field": "v", "type": "quantitative", "scale": {"domain": [0, 100]}}, "y2": {"field": "v"}}},
{"data": {"values": [{}]}, "mark": {"type": "text", "text": "PlasticBag_07", "align": "left", "baseline": "alphabetic", "fontSize": 13, "fill": "#ff1a1a"},
 "encoding": {"x": {"datum": 3.7054, "type": "quantitative", "scale": {"domain": [4, 12]}}, "y": {"datum": 108.3, "type": "quantitative", "scale": {"domain": [0, 100]}}}},
{"data": {"values": [{}]}, "mark": {"type": "text", "text": "Hexane Extract", "align": "left", "baseline": "alphabetic", "font": "Liberation Serif", "fontWeight": "bold", "fontSize": 28, "fill": "#ff0000"},
 "encoding": {"x": {"datum": 4.444, "type": "quantitative", "scale": {"domain": [4, 12]}}, "y": {"datum": 86.1, "type": "quantitative", "scale": {"domain": [0, 100]}}}},
{"data": {"values": [{}]}, "mark": {"type": "text", "text": ["Scan EI+", "45_300", "1.22e7"], "align": "right", "baseline": "middle", "lineHeight": 15.5, "fontSize": 13, "fill": "#ff1a1a"},
 "encoding": {"x": {"datum": 12.315, "type": "quantitative", "scale": {"domain": [4, 12]}}, "y": {"datum": 111.0, "type": "quantitative", "scale": {"domain": [0, 100]}}}}
]
},
{
"width": 888, "height": 228,
"layer": [
{"data": {"name": "alk"},
 "mark": {"type": "line", "color": "#008a00", "strokeWidth": 1, "interpolate": "linear"},
 "encoding": {
   "x": {"field": "t", "type": "quantitative", "scale": {"domain": [4, 12], "nice": false, "zero": false},
         "axis": {"title": "Time", "titleAngle": 0, "titleX": 891, "titleY": 1, "titleAlign": "left", "titleBaseline": "middle", "titleFont": "Liberation Sans", "titleFontSize": 12, "titleFontWeight": "normal", "titleColor": "#222", "labelPadding": 2, "labelOverlap": false, "tickCount": 200,
                  "values": [4,4.1,4.2,4.3,4.4,4.5,4.6,4.7,4.8,4.9,5,5.1,5.2,5.3,5.4,5.5,5.6,5.7,5.8,5.9,6,6.1,6.2,6.3,6.4,6.5,6.6,6.7,6.8,6.9,7,7.1,7.2,7.3,7.4,7.5,7.6,7.7,7.8,7.9,8,8.1,8.2,8.3,8.4,8.5,8.6,8.7,8.8,8.9,9,9.1,9.2,9.3,9.4,9.5,9.6,9.7,9.8,9.9,10,10.1,10.2,10.3,10.4,10.5,10.6,10.7,10.8,10.9,11,11.1,11.2,11.3,11.4,11.5,11.6,11.7,11.8,11.9,12],
                  "tickSize": {"condition": {"test": "abs(datum.value*2 - round(datum.value*2)) < 0.01", "value": 7}, "value": 4},
                  "labelExpr": "abs(datum.value - round(datum.value)) < 0.01 ? format(datum.value, '.2f') : ''"}},
   "y": {"field": "v", "type": "quantitative", "scale": {"domain": [0, 100], "nice": false, "zero": true},
         "axis": {"title": null, "labelOverlap": false, "tickCount": 50, "values": [0,10,20,30,40,50,60,70,80,90,100], "tickSize": 6, "labelPadding": 1,
                  "labelExpr": "datum.value == 100 ? '100' : datum.value == 50 ? '%' : datum.value == 0 ? '0' : ''"}}
 }},
{"data": {"name": "alklab"}, "transform": [{"filter": "datum.d === 'C'"}],
 "mark": {"type": "text", "align": "center", "baseline": "alphabetic", "dy": -4, "fill": "#1a1a1a"},
 "encoding": {"x": {"field": "t", "type": "quantitative", "scale": {"domain": [4, 12]}}, "y": {"field": "v", "type": "quantitative", "scale": {"domain": [0, 100]}}, "text": {"field": "s"}}},
{"data": {"name": "alklab"}, "transform": [{"filter": "datum.d === 'L'"}],
 "mark": {"type": "text", "align": "right", "baseline": "alphabetic", "dx": 2, "dy": -10, "fill": "#1a1a1a"},
 "encoding": {"x": {"field": "t", "type": "quantitative", "scale": {"domain": [4, 12]}}, "y": {"field": "v", "type": "quantitative", "scale": {"domain": [0, 100]}}, "text": {"field": "s"}}},
{"data": {"name": "alklab"}, "transform": [{"filter": "datum.d === 'L'"}],
 "mark": {"type": "rule", "stroke": "#000", "strokeWidth": 1, "xOffset": -1, "yOffset": -1, "x2Offset": -7, "y2Offset": -9},
 "encoding": {"x": {"field": "t", "type": "quantitative", "scale": {"domain": [4, 12]}}, "x2": {"field": "t"}, "y": {"field": "v", "type": "quantitative", "scale": {"domain": [0, 100]}}, "y2": {"field": "v"}}},
{"data": {"name": "alklab"}, "transform": [{"filter": "datum.d === 'R'"}],
 "mark": {"type": "text", "align": "left", "baseline": "alphabetic", "dx": 0, "dy": -10, "fill": "#1a1a1a"},
 "encoding": {"x": {"field": "t", "type": "quantitative", "scale": {"domain": [4, 12]}}, "y": {"field": "v", "type": "quantitative", "scale": {"domain": [0, 100]}}, "text": {"field": "s"}}},
{"data": {"name": "alklab"}, "transform": [{"filter": "datum.d === 'R'"}],
 "mark": {"type": "rule", "stroke": "#000", "strokeWidth": 1, "xOffset": 1, "yOffset": -1, "x2Offset": 6, "y2Offset": -9},
 "encoding": {"x": {"field": "t", "type": "quantitative", "scale": {"domain": [4, 12]}}, "x2": {"field": "t"}, "y": {"field": "v", "type": "quantitative", "scale": {"domain": [0, 100]}}, "y2": {"field": "v"}}},
{"data": {"values": [{}]}, "mark": {"type": "text", "text": "PlasticBag_07", "align": "left", "baseline": "alphabetic", "fontSize": 13, "fill": "#1e961e"},
 "encoding": {"x": {"datum": 3.7054, "type": "quantitative", "scale": {"domain": [4, 12]}}, "y": {"datum": 108.0, "type": "quantitative", "scale": {"domain": [0, 100]}}}},
{"data": {"values": [{}]}, "mark": {"type": "text", "text": "Alkanes", "align": "left", "baseline": "alphabetic", "font": "Liberation Serif", "fontWeight": "bold", "fontSize": 28, "fill": "#17703c"},
 "encoding": {"x": {"datum": 4.444, "type": "quantitative", "scale": {"domain": [4, 12]}}, "y": {"datum": 81.4, "type": "quantitative", "scale": {"domain": [0, 100]}}}},
{"data": {"values": [{}]}, "mark": {"type": "text", "text": ["Scan EI+", "43+57+71", "5.49e6"], "align": "right", "baseline": "middle", "lineHeight": 16, "fontSize": 13, "fill": "#1e961e"},
 "encoding": {"x": {"datum": 12.315, "type": "quantitative", "scale": {"domain": [4, 12]}}, "y": {"datum": 110.5, "type": "quantitative", "scale": {"domain": [0, 100]}}}}
]
}
]
}
